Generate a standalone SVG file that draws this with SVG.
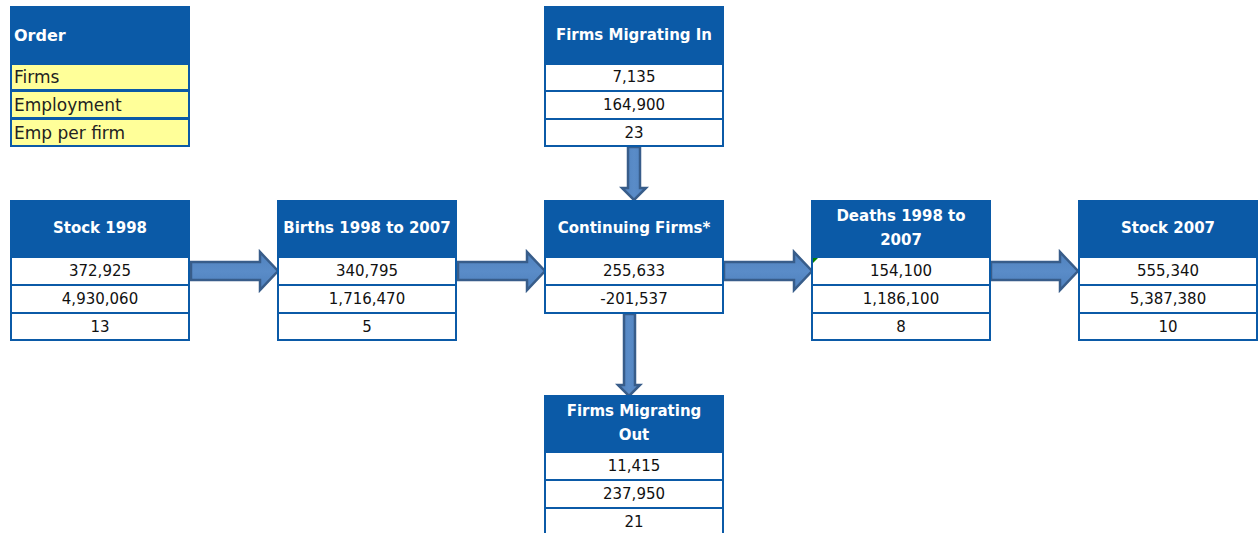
<svg xmlns="http://www.w3.org/2000/svg" width="1258" height="533" viewBox="0 0 1258 533">
<defs>
<style>
.hd{fill:#0B5AA7}
.row{fill:#fff;stroke:#0B5AA7;stroke-width:2}
.leg{fill:#FFFF99;stroke:#0B5AA7;stroke-width:2}
.ht{font-family:"DejaVu Sans",sans-serif;font-weight:bold;font-size:15px;fill:#fff;text-anchor:middle;dominant-baseline:central}
.vt{font-family:"DejaVu Sans",sans-serif;font-size:15px;fill:#111;text-anchor:middle;dominant-baseline:central}
.lt{font-family:"DejaVu Sans",sans-serif;font-size:17px;fill:#222;dominant-baseline:central}
.arr{fill:url(#g);stroke:#385D8A;stroke-width:2.5;stroke-linejoin:miter}
</style>
<linearGradient id="g" x1="0" y1="0" x2="0" y2="1">
<stop offset="0" stop-color="#4F81BD"/>
<stop offset="0.5" stop-color="#5A8CC8"/>
<stop offset="1" stop-color="#4F81BD"/>
</linearGradient>
<linearGradient id="gv" x1="0" y1="0" x2="1" y2="0">
<stop offset="0" stop-color="#4F81BD"/>
<stop offset="0.5" stop-color="#5A8CC8"/>
<stop offset="1" stop-color="#4F81BD"/>
</linearGradient>
</defs>

<g id="legend">
<rect class="hd" x="10" y="6" width="180" height="58"/>
<text class="lt" x="14" y="35" style="fill:#fff;font-weight:bold;font-size:16px">Order</text>
<rect class="leg" x="11" y="64" width="178" height="26"/>
<rect class="leg" x="11" y="91" width="178" height="27"/>
<rect class="leg" x="11" y="119" width="178" height="27"/>
<text class="lt" x="14" y="77">Firms</text>
<text class="lt" x="14" y="105">Employment</text>
<text class="lt" x="14" y="133">Emp per firm</text>
</g>

<g id="connectors">
<path class="arr" d="M191,262 H260 V252 L278,271 L260,290 V280 H191 Z"/>
<path class="arr" d="M458,262 H527 V252 L545,271 L527,290 V280 H458 Z"/>
<path class="arr" d="M724,262 H794 V252 L812,271 L794,290 V280 H724 Z"/>
<path class="arr" d="M991,262 H1060 V252 L1078,271 L1060,290 V280 H991 Z"/>
<path class="arr" style="fill:url(#gv)" d="M628,147 V188 H622 L634,200 L646,188 H640 V147 Z"/>
<path class="arr" style="fill:url(#gv)" d="M624,314 V385 H618 L629,396 L640,385 H635 V314 Z"/>
</g>

<g id="stock1998">
<rect class="hd" x="10" y="200" width="180" height="57"/>
<text class="ht" x="100" y="228">Stock 1998</text>
<rect class="row" x="11" y="257" width="178" height="28"/>
<rect class="row" x="11" y="285" width="178" height="28"/>
<rect class="row" x="11" y="313" width="178" height="27"/>
<text class="vt" x="100" y="271">372,925</text>
<text class="vt" x="100" y="299">4,930,060</text>
<text class="vt" x="100" y="327">13</text>
</g>

<g id="births">
<rect class="hd" x="277" y="200" width="180" height="57"/>
<text class="ht" x="367" y="228">Births 1998 to 2007</text>
<rect class="row" x="278" y="257" width="178" height="28"/>
<rect class="row" x="278" y="285" width="178" height="28"/>
<rect class="row" x="278" y="313" width="178" height="27"/>
<text class="vt" x="367" y="271">340,795</text>
<text class="vt" x="367" y="299">1,716,470</text>
<text class="vt" x="367" y="327">5</text>
</g>

<g id="continuing">
<rect class="hd" x="544" y="200" width="180" height="57"/>
<text class="ht" x="634" y="228">Continuing Firms*</text>
<rect class="row" x="545" y="257" width="178" height="28"/>
<rect class="row" x="545" y="285" width="178" height="28"/>
<text class="vt" x="634" y="271">255,633</text>
<text class="vt" x="634" y="299">-201,537</text>
</g>

<g id="deaths">
<rect class="hd" x="811" y="200" width="180" height="57"/>
<text class="ht" x="901" y="216">Deaths 1998 to</text>
<text class="ht" x="901" y="240">2007</text>
<rect class="row" x="812" y="257" width="178" height="28"/>
<rect class="row" x="812" y="285" width="178" height="28"/>
<rect class="row" x="812" y="313" width="178" height="27"/>
<path d="M813,258 H818 L813,263 Z" fill="#008000"/>
<text class="vt" x="901" y="271">154,100</text>
<text class="vt" x="901" y="299">1,186,100</text>
<text class="vt" x="901" y="327">8</text>
</g>

<g id="stock2007">
<rect class="hd" x="1078" y="200" width="180" height="57"/>
<text class="ht" x="1168" y="228">Stock 2007</text>
<rect class="row" x="1079" y="257" width="178" height="28"/>
<rect class="row" x="1079" y="285" width="178" height="28"/>
<rect class="row" x="1079" y="313" width="178" height="27"/>
<text class="vt" x="1168" y="271">555,340</text>
<text class="vt" x="1168" y="299">5,387,380</text>
<text class="vt" x="1168" y="327">10</text>
</g>

<g id="migratingIn">
<rect class="hd" x="544" y="6" width="180" height="58"/>
<text class="ht" x="634" y="35">Firms Migrating In</text>
<rect class="row" x="545" y="64" width="178" height="27"/>
<rect class="row" x="545" y="91" width="178" height="28"/>
<rect class="row" x="545" y="119" width="178" height="27"/>
<text class="vt" x="634" y="77">7,135</text>
<text class="vt" x="634" y="105">164,900</text>
<text class="vt" x="634" y="133">23</text>
</g>

<g id="migratingOut">
<rect class="hd" x="544" y="395" width="180" height="57"/>
<text class="ht" x="634" y="411">Firms Migrating</text>
<text class="ht" x="634" y="435">Out</text>
<rect class="row" x="545" y="452" width="178" height="28"/>
<rect class="row" x="545" y="480" width="178" height="28"/>
<rect class="row" x="545" y="508" width="178" height="30"/>
<text class="vt" x="634" y="466">11,415</text>
<text class="vt" x="634" y="494">237,950</text>
<text class="vt" x="634" y="522">21</text>
</g>
</svg>
